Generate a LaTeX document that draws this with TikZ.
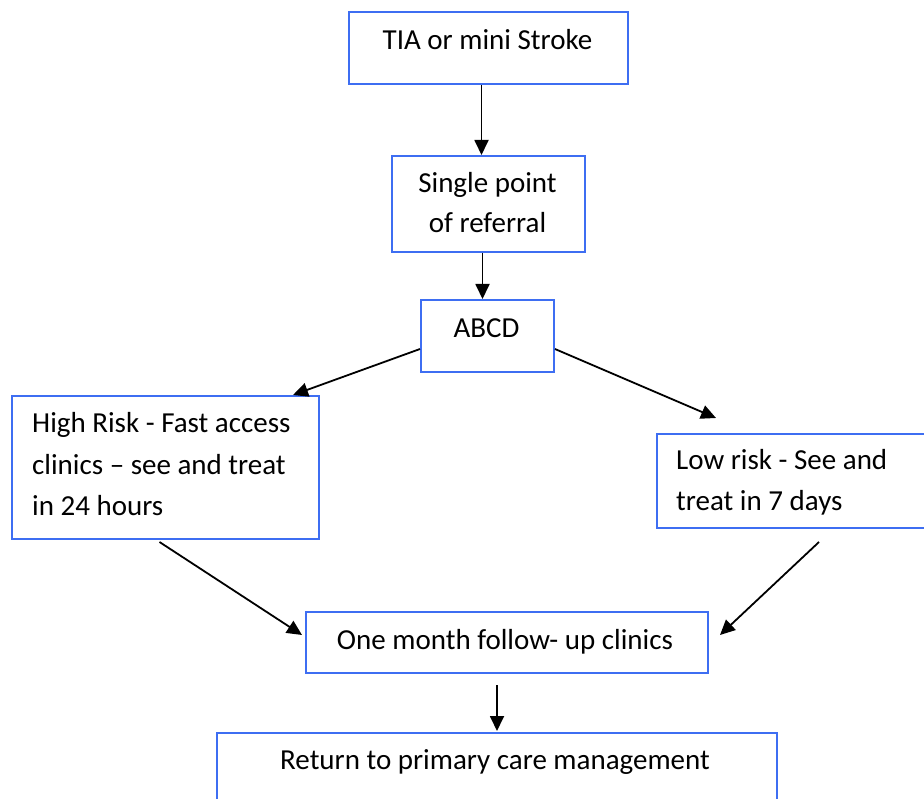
\documentclass[tikz,border=0pt]{standalone}
\usepackage{fontspec}
\setmainfont{Carlito}
\usetikzlibrary{arrows.meta,calc}
\definecolor{boxblue}{RGB}{62,110,242}
\tikzset{
  box/.style={draw=boxblue, line width=2pt, rectangle, inner sep=0pt, anchor=north west},
  lbl/.style={font=\fontsize{29}{35}\selectfont, text=black, inner sep=0pt},
  arr/.style={draw=black, line width=1.8pt, -{Triangle[length=15pt,width=14pt]}}
}
\begin{document}
\begin{tikzpicture}[x=1pt,y=-1pt]
\useasboundingbox (0,0) rectangle (924,799);
\clip (0,0) rectangle (924,799);
\fill[white] (0,0) rectangle (924,799);

% boxes
\node[box, minimum width=279pt, minimum height=72pt] (tia) at (348,11) {};
\node[box, minimum width=193pt, minimum height=96pt] (single) at (391,155) {};
\node[box, minimum width=133pt, minimum height=72pt] (abcd) at (420,299) {};
\node[box, minimum width=307pt, minimum height=143pt] (high) at (11,395) {};
\node[box, minimum width=290pt, minimum height=94pt] (low) at (656,433) {};
\node[box, minimum width=402pt, minimum height=61pt] (one) at (305,611) {};
\node[box, minimum width=560pt, minimum height=100pt] (ret) at (216,732) {};

% texts
\node[lbl, anchor=base] (tia-t) at (487.5,50) {TIA or mini Stroke};
\node[lbl, anchor=base] (single-t1) at (487.5,193) {Single point};
\node[lbl, anchor=base] (single-t2) at (487.5,233) {of referral};
\node[lbl, anchor=base] (abcd-t) at (486.5,338) {ABCD};
\node[lbl, anchor=base west] (high-t1) at (32,433) {High Risk - Fast access};
\node[lbl, anchor=base west] (high-t2) at (32,475) {clinics – see and treat};
\node[lbl, anchor=base west] (high-t3) at (32,515) {in 24 hours};
\node[lbl, anchor=base west] (low-t1) at (676,470) {Low risk - See and};
\node[lbl, anchor=base west] (low-t2) at (676,510) {treat in 7 days};
\node[lbl, anchor=base] (one-t) at (505,649) {One month follow- up clinics};
\node[lbl, anchor=base] (ret-t) at (495,769) {Return to primary care management};

% connectors
\draw[arr] ($(tia.south)+(-7,0)$) -- ($(single.north)+(-7,0)$);
\draw[arr] ($(single.south)+(-6,0)$) -- ($(abcd.north)+(-5,0)$);
\draw[arr] ($(abcd.west)+(0,13)$) -- ($(high.north east)+(-27,0)$);
\draw[arr] ($(abcd.east)+(0,13)$) -- ($(low.north west)+(60,-15)$);
\draw[arr] ($(high.south)+(-6,2)$) -- ($(one.west)+(-3,-7.5)$);
\draw[arr] ($(low.south west)+(163,13)$) -- ($(one.east)+(11,-7.5)$);
\draw[arr] ($(one.south)+(-10,11)$) -- ($(ret.north)+(0,-1)$);
\end{tikzpicture}
\end{document}
